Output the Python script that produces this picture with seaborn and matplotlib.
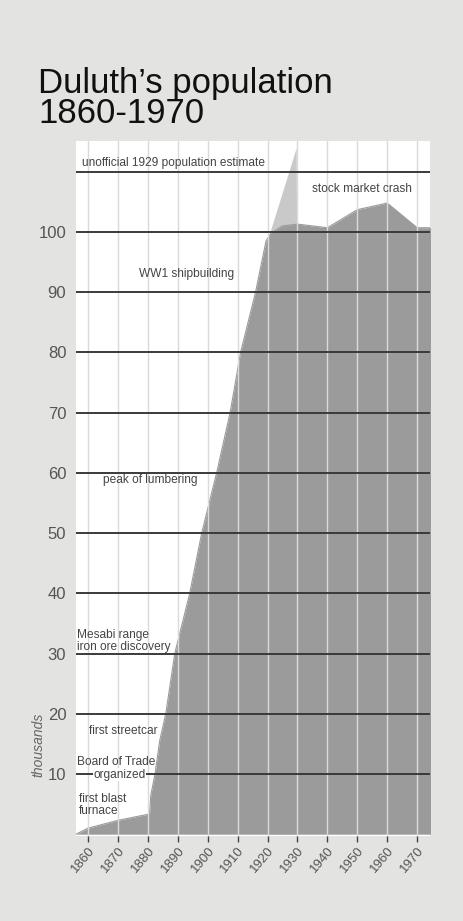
import numpy as np
import matplotlib
matplotlib.use("Agg")
import matplotlib.pyplot as plt
import seaborn as sns

sns.set_theme(style="white")
plt.rcParams['font.family'] = ['Liberation Sans', 'DejaVu Sans']

years = [1856, 1860, 1870, 1880, 1880.6, 1881, 1882.4, 1884, 1886, 1889, 1894,
         1898, 1903, 1907.5, 1911, 1916, 1919.5, 1921, 1925, 1930, 1940,
         1950, 1960, 1970, 1974.5]
population = [0, 1.0, 2.3, 3.3, 3.5, 6.5, 10, 15.6, 20, 30, 40,
              50, 60, 70, 80, 90, 98.5, 99.7, 101, 101.3, 100.7,
              103.7, 104.8, 100.7, 100.7]

# unofficial 1929 estimate spike
spike_years = [1920, 1929.6, 1929.7]
spike_values = [98.7, 114, 101.3]

decades = list(range(1860, 1980, 10))
gridlines = [10, 20, 30, 40, 50, 60, 70, 80, 90, 100, 110]
ytick_values = [10, 20, 30, 40, 50, 60, 70, 80, 90, 100]

bg = '#e3e3e1'
fig = plt.figure(figsize=(4.63, 9.21), dpi=100, facecolor=bg)
ax = fig.add_axes([76 / 463, 85 / 921, 354 / 463, 695 / 921])
ax.set_facecolor('white')

ax.fill_between(spike_years, 0, spike_values, color='#c9c9c9', lw=0, zorder=1)
ax.fill_between(years, 0, population, color='#9b9b9b', lw=0, zorder=2)
sns.lineplot(x=years, y=population, ax=ax, color='#9b9b9b', lw=0.8, zorder=2)

for d in decades:
    ax.axvline(d, color='#dadada', lw=1.0, zorder=3)
for g in gridlines:
    ax.axhline(g, color='#3a3a3a', lw=1.4, zorder=4)

ax.set_xlim(1856, 1974.3)
ax.set_ylim(-0.3, 115.1)
for s in ax.spines.values():
    s.set_visible(False)

ax.set_xticks(decades)
ax.set_xticklabels([str(d) for d in decades], rotation=50, ha='right',
                   va='top', rotation_mode='anchor', fontsize=9.5, color='#555555')
ax.tick_params(axis='x', direction='out', length=4, width=1, color='#444444',
               bottom=True, pad=2)
ax.set_yticks(ytick_values)
ax.set_yticklabels([str(v) for v in ytick_values], fontsize=12, color='#555555')
ax.tick_params(axis='y', length=0, pad=7)

fig.text(38 / 463, 1 - 745 / 921, 'thousands', rotation=90, style='italic',
         fontsize=10, color='#666666', ha='center', va='center')

txt = dict(fontsize=8.6, color='#444444', zorder=6)
ax.text(1858, 110.9, 'unofficial 1929 population estimate', **txt)
ax.text(1951.5, 106.6, 'stock market crash', ha='center', **txt)
ax.text(1877, 92.6, 'WW1 shipbuilding', **txt)
ax.text(1865, 58.3, 'peak of lumbering', **txt)
ax.text(1856.5, 30.6, 'Mesabi range\niron ore discovery', linespacing=1.0, **txt)
ax.text(1860.3, 16.6, 'first streetcar', **txt)
ax.text(1856.5, 11.5, 'Board of Trade', **txt)
ax.text(1870.5, 9.9, 'organized', ha='center', va='center',
        bbox=dict(facecolor='white', edgecolor='none', pad=0.2), **txt)
ax.text(1857, 3.4, 'first blast\nfurnace', linespacing=1.0, **txt)

fig.text(38 / 463, 1 - 93 / 921, "Duluth\u2019s population", fontsize=25,
         color='#111111', ha='left', va='baseline')
fig.text(38 / 463, 1 - 123 / 921, '1860-1970', fontsize=25,
         color='#111111', ha='left', va='baseline')

fig.savefig('out.png', dpi=100, facecolor=bg)
